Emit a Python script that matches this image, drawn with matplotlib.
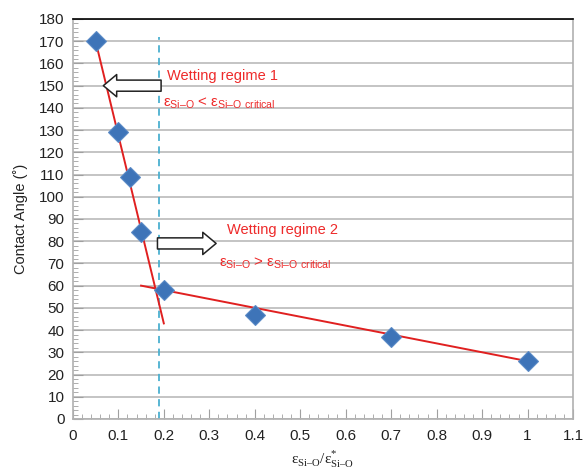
import matplotlib.pyplot as plt
from matplotlib.ticker import MultipleLocator

plt.rcParams['font.family'] = ['Liberation Sans', 'DejaVu Sans']
plt.rcParams['mathtext.fontset'] = 'custom'
plt.rcParams['mathtext.rm'] = 'Liberation Serif'
plt.rcParams['mathtext.sf'] = 'Liberation Sans'

# data
strain_ratio = [0.05, 0.1, 0.125, 0.15, 0.2, 0.4, 0.7, 1.0]
contact_angle = [170, 129, 109, 84, 58, 47, 37, 26]

# fitted trend lines (two regimes)
fit1_x = [0.05, 0.2]
fit1_y = [170, 43]
fit2_x = [0.15, 1.0]
fit2_y = [60, 26]

critical_x = 0.19
critical_top = 172

fig = plt.figure(figsize=(5.83, 4.75), dpi=100)
ax = fig.add_axes([0.125, 0.118, 0.858, 0.842])

ax.set_xlim(0, 1.1)
ax.set_ylim(0, 180)
ax.xaxis.set_major_locator(MultipleLocator(0.1))
ax.xaxis.set_minor_locator(MultipleLocator(0.02))
ax.yaxis.set_major_locator(MultipleLocator(10))
ax.yaxis.set_minor_locator(MultipleLocator(2))
ax.set_xticks([i / 10 for i in range(12)])
ax.set_xticklabels(["0", "0.1", "0.2", "0.3", "0.4", "0.5", "0.6", "0.7",
                    "0.8", "0.9", "1", "1.1"])

ax.grid(axis="y", which="major", color="#c4c4c4", linewidth=1.4)
ax.set_axisbelow(True)
ax.tick_params(which="both", direction="in", color="#a0a0a0",
               labelsize=11, labelcolor="#222222")
ax.tick_params(which="major", length=7)
ax.tick_params(which="minor", length=3.5)
ax.tick_params(axis="x", pad=7)
ax.tick_params(axis="y", pad=6)
for side in ["left", "bottom", "right"]:
    ax.spines[side].set_color("#b0b0b0")
    ax.spines[side].set_linewidth(1.2)
ax.spines["top"].set_color("black")
ax.spines["top"].set_linewidth(1.2)

ax.plot([critical_x, critical_x], [0, critical_top], color="#4bb0d0",
        linestyle=(0, (4, 3)), linewidth=1.3, zorder=2)

ax.plot(fit1_x, fit1_y, color="#e02020", linewidth=1.4, zorder=3)
ax.plot(fit2_x, fit2_y, color="#e02020", linewidth=1.4, zorder=3)
ax.plot(strain_ratio, contact_angle, linestyle="none", marker="D",
        markersize=10, color="#3e74b8", markeredgecolor="#5a8ac6",
        markeredgewidth=0.8, zorder=4)

arrow_style = dict(arrowstyle="simple,head_length=0.6,head_width=1.0,tail_width=0.5",
                   mutation_scale=16, shrinkA=0, shrinkB=0,
                   facecolor="white", edgecolor="#222222", linewidth=1.1)
ax.annotate("", xy=(0.067, 150), xytext=(0.194, 150),
            arrowprops=arrow_style, zorder=5)
ax.annotate("", xy=(0.315, 79), xytext=(0.186, 79),
            arrowprops=arrow_style, zorder=5)

red = "#ee2a2a"
ax.text(0.207, 154.5, "Wetting regime 1", color=red, fontsize=10.5,
        va="center", ha="left")
ax.text(0.199, 142, r"$\mathsf{ε}_{\mathsf{Si–O}}$ < $\mathsf{ε}_{\mathsf{Si–O\ critical}}$",
        color=red, fontsize=10.8, va="center", ha="left")
ax.text(0.338, 85, "Wetting regime 2", color=red, fontsize=10.5,
        va="center", ha="left")
ax.text(0.322, 70, r"$\mathsf{ε}_{\mathsf{Si–O}}$ > $\mathsf{ε}_{\mathsf{Si–O\ critical}}$",
        color=red, fontsize=10.8, va="center", ha="left")

ax.set_ylabel("Contact Angle (˚)", fontsize=10.5, color="#222222", labelpad=8)
ax.set_xlabel(r"$\mathrm{ε}_{\mathrm{Si–O}}/\mathrm{ε}^{*}_{\mathrm{Si–O}}$",
              fontsize=11, color="#222222", labelpad=4)

fig.savefig("out.png", dpi=100)
